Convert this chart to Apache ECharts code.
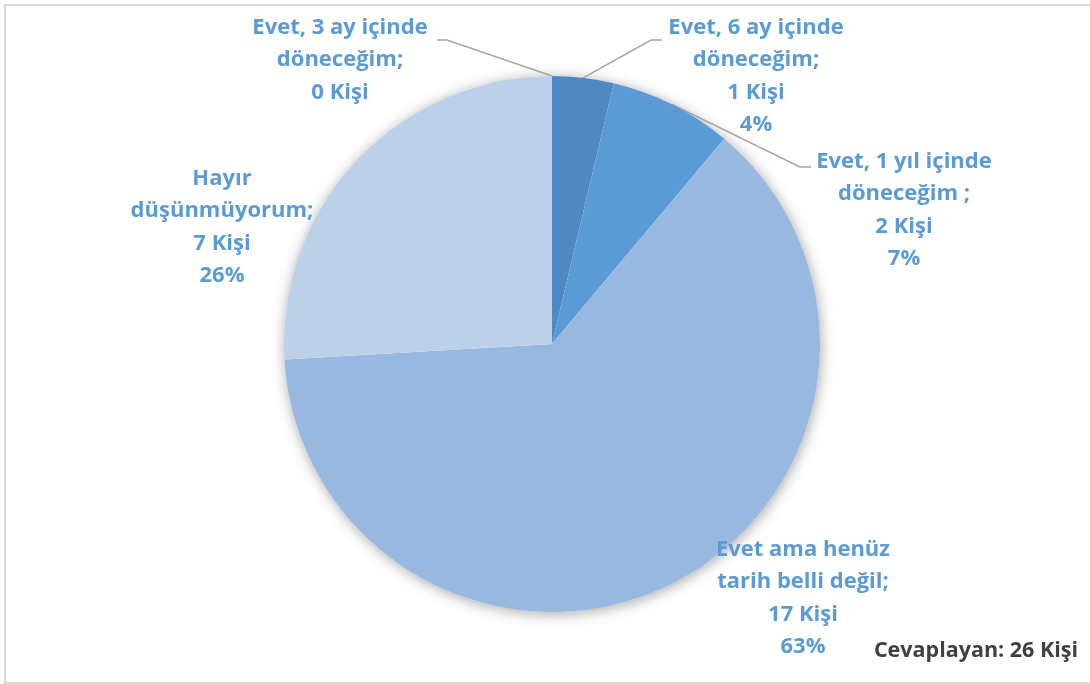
<!DOCTYPE html>
<html>
<head>
<meta charset="utf-8">
<script src="https://cdn.jsdelivr.net/npm/echarts@6/dist/echarts.min.js"></script>
<style>
html,body{margin:0;padding:0;background:#fff;}
#chart{width:1090px;height:684px;}
</style>
</head>
<body>
<div id="chart"></div>
<script>
// Data
const categories = [
  "Evet, 3 ay içinde\ndöneceğim;",
  "Evet, 6 ay içinde\ndöneceğim;",
  "Evet, 1 yıl içinde\ndöneceğim ;",
  "Evet ama henüz\ntarih belli değil;",
  "Hayır\ndüşünmüyorum;"
];
const values = [0, 1, 2, 17, 7];
const unitLabel = "Kişi";
const footnote = "Cevaplayan: 26 Kişi";

// Styles
const colors = ['#3F73A8', '#4E89C1', '#5B9BD5', '#98B8DF', '#BDD0EA'];
const labelFont = '"Open Sans", Lato, sans-serif';
// label anchor positions (centre of text block) and leader-line elbows
const labelPos = [
  {x: 340, y: 60, line: true, elbow: [447, 40], end: [437, 40]},
  {x: 756, y: 76, line: true, elbow: [651, 40], end: [662, 40]},
  {x: 904, y: 210, line: true, elbow: [800, 167], end: [811, 167]},
  {x: 803, y: 598, line: false},
  {x: 222, y: 227, line: false}
];

const chart = echarts.init(document.getElementById('chart'), null, {renderer: 'canvas'});
const total = values.reduce((a, b) => a + b, 0);

const option = {
  animation: false,
  backgroundColor: '#ffffff',
  graphic: [
    {type: 'rect', z: -10, shape: {x: 5, y: 5, width: 1090, height: 678},
     style: {fill: 'none', stroke: '#d9d9d9', lineWidth: 2}},
    {type: 'text', right: 12, top: 640,
     style: {text: footnote, fill: '#404040', font: 'bold 21.5px ' + labelFont}}
  ],
  series: [
    {
      // shadow underlay
      type: 'pie', silent: true, z: 1,
      center: [552, 344], radius: 268, startAngle: 90,
      label: {show: false}, labelLine: {show: false},
      itemStyle: {color: '#ffffff', shadowBlur: 14, shadowColor: 'rgba(0,0,0,0.35)', shadowOffsetX: 1, shadowOffsetY: 2},
      data: [{value: total}]
    },
    {
      type: 'pie', z: 2,
      center: [552, 344], radius: 268, startAngle: 90, clockwise: true,
      percentPrecision: 0,
      avoidLabelOverlap: false,
      itemStyle: {borderWidth: 0},
      label: {
        show: true, position: 'outside',
        color: '#5B9BD5', fontWeight: 'bold', fontSize: 22, lineHeight: 32.5,
        fontFamily: labelFont, align: 'center',
        formatter: function (p) {
          let s = p.name + '\n' + p.value + ' ' + unitLabel;
          if (p.value > 0) s += '\n' + p.percent + '%';
          return s;
        }
      },
      labelLine: {show: true, length: 10, length2: 10, lineStyle: {color: '#a6a6a6', width: 1.5}},
      labelLayout: function (params) {
        const lp = labelPos[params.dataIndex];
        const res = {x: lp.x, y: lp.y, align: 'center', verticalAlign: 'middle'};
        if (lp.line && params.labelLinePoints) {
          res.labelLinePoints = [params.labelLinePoints[0], lp.elbow, lp.end];
        }
        return res;
      },
      data: categories.map((c, i) => ({
        name: c, value: values[i],
        itemStyle: {color: colors[i]},
        labelLine: {show: labelPos[i].line}
      }))
    }
  ]
};
chart.setOption(option);
</script>
</body>
</html>
